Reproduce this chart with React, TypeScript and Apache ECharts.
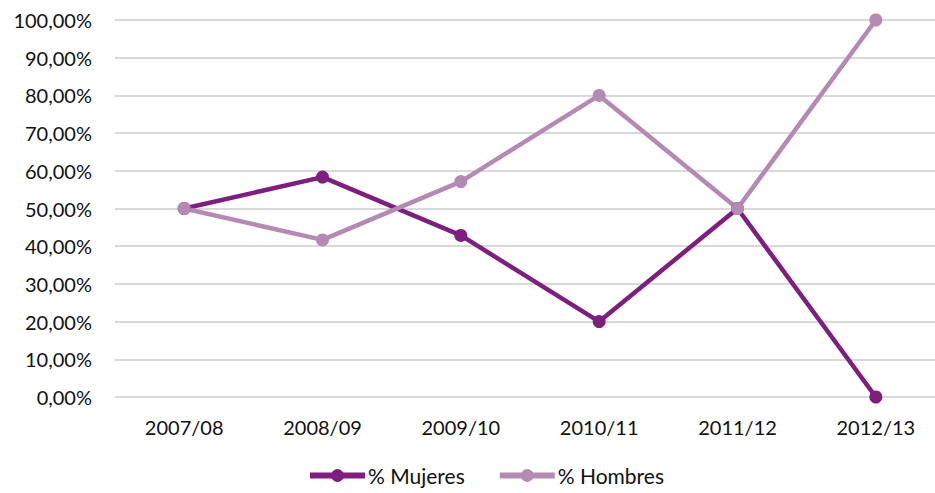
import React, { useEffect, useRef } from "react";
import * as echarts from "echarts";

const categories = ["2007/08", "2008/09", "2009/10", "2010/11", "2011/12", "2012/13"];
const mujeres = [50, 58.33, 42.86, 20, 50, 0];
const hombres = [50, 41.67, 57.14, 80, 50, 100];

export default function App() {
  const ref = useRef<HTMLDivElement>(null);
  useEffect(() => {
    if (!ref.current) return;
    const chart = echarts.init(ref.current, null, { renderer: "svg" });
    const font = "Lato, 'Liberation Sans', sans-serif";
    chart.setOption({
      animation: false,
      backgroundColor: "#ffffff",
      textStyle: { fontFamily: font },
      grid: { left: 115, right: 0, top: 20, bottom: 96, containLabel: false },
      legend: {
        bottom: 2,
        left: 302,
        itemWidth: 55,
        itemHeight: 16,
        itemGap: 32,
        lineStyle: { width: 6 },
        textStyle: { fontSize: 21, color: "#111", fontFamily: font, padding: [0, 0, 0, -2] },
        data: ["% Mujeres", "% Hombres"],
      },
      xAxis: {
        type: "category",
        data: categories,
        boundaryGap: true,
        axisLine: { show: false },
        axisTick: { show: false },
        axisLabel: { fontSize: 20, color: "#111", margin: 20, fontFamily: font },
      },
      yAxis: {
        type: "value",
        min: 0,
        max: 100,
        interval: 10,
        axisLine: { show: false },
        axisTick: { show: false },
        splitLine: { lineStyle: { color: "#d9d9d9", width: 2 } },
        axisLabel: {
          fontSize: 20,
          color: "#111",
          margin: 23,
          fontFamily: font,
          formatter: (v: number) => v.toFixed(2).replace(".", ",") + "%",
        },
      },
      series: [
        {
          name: "% Mujeres",
          type: "line",
          data: mujeres,
          symbol: "circle",
          symbolSize: 13,
          itemStyle: { color: "#7e1e7e" },
          lineStyle: { color: "#7e1e7e", width: 4.5 },
        },
        {
          name: "% Hombres",
          type: "line",
          data: hombres,
          symbol: "circle",
          symbolSize: 13,
          itemStyle: { color: "#b48ab4" },
          lineStyle: { color: "#b48ab4", width: 4.5 },
        },
      ],
    });
    return () => chart.dispose();
  }, []);
  return (
    <div
      style={{ position: "fixed", left: 0, top: 0, width: 935, height: 493, overflow: "hidden", background: "#fff" }}
    >
      <div ref={ref} style={{ width: 945, height: 493 }} />
    </div>
  );
}
